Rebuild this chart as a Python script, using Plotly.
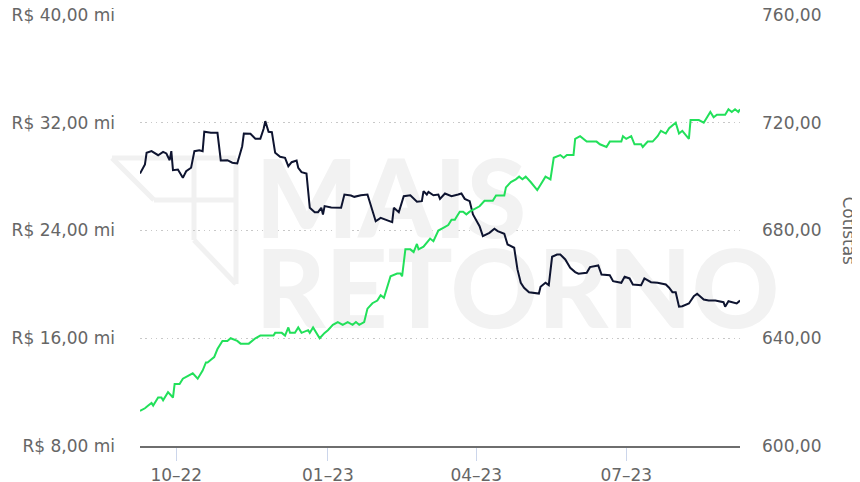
import plotly.graph_objects as go

# ---- data: Patrimônio líquido (R$ mi) ----
pl_dates = [
    "2022-09-09", "2022-09-12", "2022-09-13", "2022-09-16", "2022-09-20", "2022-09-23", "2022-09-25",
    "2022-09-27", "2022-09-28", "2022-09-29", "2022-10-02", "2022-10-05", "2022-10-07", "2022-10-10",
    "2022-10-12", "2022-10-15", "2022-10-17", "2022-10-18", "2022-10-22", "2022-10-26", "2022-10-28",
    "2022-11-01", "2022-11-04", "2022-11-07", "2022-11-10", "2022-11-11", "2022-11-15", "2022-11-18",
    "2022-11-21", "2022-11-23", "2022-11-24", "2022-11-26", "2022-11-28", "2022-11-30", "2022-12-03",
    "2022-12-06", "2022-12-08", "2022-12-10", "2022-12-13", "2022-12-14", "2022-12-16", "2022-12-19",
    "2022-12-21", "2022-12-24", "2022-12-26", "2022-12-28", "2022-12-29", "2022-12-30", "2023-01-03",
    "2023-01-09", "2023-01-11", "2023-01-15", "2023-01-17", "2023-01-21", "2023-01-25", "2023-01-27",
    "2023-01-30", "2023-02-02", "2023-02-06", "2023-02-09", "2023-02-10", "2023-02-13", "2023-02-16",
    "2023-02-20", "2023-02-24", "2023-02-27", "2023-02-28", "2023-03-02", "2023-03-03", "2023-03-06",
    "2023-03-09", "2023-03-10", "2023-03-13", "2023-03-17", "2023-03-21", "2023-03-23", "2023-03-25",
    "2023-03-28", "2023-03-30", "2023-04-03", "2023-04-05", "2023-04-09", "2023-04-12", "2023-04-14",
    "2023-04-18", "2023-04-20", "2023-04-24", "2023-04-26", "2023-04-28", "2023-04-30", "2023-05-03",
    "2023-05-09", "2023-05-10", "2023-05-13", "2023-05-15", "2023-05-17", "2023-05-20", "2023-05-22",
    "2023-05-25", "2023-05-28", "2023-05-31", "2023-06-02", "2023-06-07", "2023-06-09", "2023-06-14",
    "2023-06-16", "2023-06-21", "2023-06-23", "2023-06-28", "2023-06-30", "2023-07-03", "2023-07-05",
    "2023-07-10", "2023-07-12", "2023-07-16", "2023-07-20", "2023-07-25", "2023-07-27", "2023-07-29",
    "2023-07-31", "2023-08-02", "2023-08-04", "2023-08-08", "2023-08-11", "2023-08-13", "2023-08-17",
    "2023-08-20", "2023-08-24", "2023-08-29", "2023-08-30", "2023-09-01", "2023-09-04", "2023-09-06",
    "2023-09-08",
]
pl_values = [
    28.23, 28.90, 29.77, 29.89, 29.59, 29.84, 29.72,
    29.22, 29.89, 28.48, 28.53, 27.91, 28.40, 28.66,
    29.89, 29.96, 29.89, 31.33, 31.25, 31.25, 29.20,
    29.22, 29.03, 28.98, 30.26, 31.20, 31.18, 30.81,
    30.81, 31.55, 32.12, 31.33, 31.30, 29.77, 29.47,
    29.40, 28.77, 29.07, 29.20, 28.66, 28.33, 28.23,
    25.69, 25.36, 25.36, 25.69, 25.19, 25.81, 25.71,
    25.69, 26.67, 26.60, 26.50, 26.62, 26.67, 25.81,
    24.69, 24.94, 24.77, 24.62, 25.69, 25.36, 26.55,
    26.62, 26.13, 26.18, 26.92, 26.67, 26.87, 26.62,
    26.67, 26.35, 26.75, 26.55, 26.67, 26.75, 26.35,
    26.18, 25.19, 24.32, 23.58, 23.83, 24.13, 23.95,
    23.76, 22.96, 22.72, 21.11, 20.12, 19.75, 19.42,
    19.32, 19.82, 20.12, 19.94, 22.05, 22.22, 22.22,
    21.85, 21.23, 20.91, 20.79, 20.86, 21.28, 21.40,
    20.73, 20.68, 20.24, 20.12, 20.56, 20.44, 19.99,
    19.94, 20.44, 20.16, 20.12, 19.99, 19.75, 19.42,
    19.42, 18.34, 18.38, 18.58, 19.12, 19.30, 18.88,
    18.80, 18.80, 18.68, 18.34, 18.75, 18.63, 18.58,
    18.80,
]

# ---- data: Cotistas ----
cot_dates = [
    "2022-09-09", "2022-09-12", "2022-09-14", "2022-09-16", "2022-09-17", "2022-09-20", "2022-09-22",
    "2022-09-23", "2022-09-26", "2022-09-29", "2022-09-30", "2022-10-03", "2022-10-05", "2022-10-08",
    "2022-10-11", "2022-10-14", "2022-10-17", "2022-10-19", "2022-10-20", "2022-10-22", "2022-10-24",
    "2022-10-26", "2022-10-29", "2022-11-01", "2022-11-03", "2022-11-07", "2022-11-09", "2022-11-14",
    "2022-11-18", "2022-11-21", "2022-11-29", "2022-11-30", "2022-12-04", "2022-12-06", "2022-12-08",
    "2022-12-09", "2022-12-12", "2022-12-14", "2022-12-16", "2022-12-20", "2022-12-21", "2022-12-23",
    "2022-12-27", "2022-12-30", "2023-01-01", "2023-01-04", "2023-01-07", "2023-01-10", "2023-01-13",
    "2023-01-16", "2023-01-18", "2023-01-20", "2023-01-23", "2023-01-25", "2023-01-28", "2023-01-31",
    "2023-02-02", "2023-02-04", "2023-02-08", "2023-02-12", "2023-02-14", "2023-02-15", "2023-02-17",
    "2023-02-20", "2023-02-22", "2023-02-24", "2023-02-25", "2023-02-28", "2023-03-03", "2023-03-04",
    "2023-03-06", "2023-03-09", "2023-03-12", "2023-03-15", "2023-03-17", "2023-03-19", "2023-03-20",
    "2023-03-22", "2023-03-24", "2023-03-26", "2023-03-28", "2023-03-31", "2023-04-03", "2023-04-06",
    "2023-04-08", "2023-04-11", "2023-04-13", "2023-04-15", "2023-04-18", "2023-04-19", "2023-04-22",
    "2023-04-25", "2023-04-27", "2023-04-29", "2023-05-01", "2023-05-04", "2023-05-08", "2023-05-10",
    "2023-05-13", "2023-05-16", "2023-05-18", "2023-05-22", "2023-05-24", "2023-05-26", "2023-05-30",
    "2023-05-31", "2023-06-03", "2023-06-07", "2023-06-13", "2023-06-15", "2023-06-19", "2023-06-21",
    "2023-06-24", "2023-06-28", "2023-06-29", "2023-07-01", "2023-07-04", "2023-07-06", "2023-07-10",
    "2023-07-11", "2023-07-14", "2023-07-17", "2023-07-20", "2023-07-22", "2023-07-25", "2023-07-27",
    "2023-07-31", "2023-08-02", "2023-08-04", "2023-08-08", "2023-08-09", "2023-08-14", "2023-08-17",
    "2023-08-20", "2023-08-21", "2023-08-23", "2023-08-25", "2023-08-28", "2023-08-30", "2023-09-01",
    "2023-09-03", "2023-09-05", "2023-09-07", "2023-09-08",
]
cot_values = [
    613, 614, 615, 616, 615, 618, 618,
    617, 620, 618, 623, 623, 625, 626,
    627, 625, 628, 631, 631, 632, 633,
    636, 639, 639, 640, 639, 638, 638,
    640, 641, 641, 642, 642, 641, 644,
    642, 642, 644, 642, 643, 642, 644,
    640, 642, 643, 645, 646, 645, 646,
    645, 646, 645, 646, 651, 653, 654,
    656, 655, 663, 664, 664, 663, 673,
    673, 672, 675, 673, 674, 676, 677,
    676, 680, 681, 682, 684, 684, 685,
    687, 687, 686, 687, 688, 689, 691,
    691, 691, 693, 693, 693, 696, 698,
    699, 700, 699, 700, 698, 695, 697,
    700, 699, 707, 708, 707, 708, 708,
    714, 715, 713, 713, 712, 711, 713,
    713, 713, 715, 714, 715, 712, 712,
    711, 713, 713, 715, 717, 716, 718,
    720, 716, 717, 714, 721, 721, 720,
    723, 724, 722, 723, 723, 723, 725,
    724, 725, 724, 725,
]

# ---- axis ticks ----
x_tickvals = ["2022-10-01", "2023-01-01", "2023-04-01", "2023-07-01"]
x_ticktext = ["10–22", "01–23", "04–23", "07–23"]
left_range = [8, 40]
right_range = [600, 760]

FONT = "DejaVu Sans"
GRAY = "#666666"
OFF = 8                      # page body margin in the browser
W, H = 860 - OFF, 482 - OFF  # figure fills the visible window
ML, MR, MT, MB = 132, 120, 7, 36


def px2paper_x(px):
    return (px - OFF - ML) / (W - ML - MR)


def px2paper_y(py):
    return (H - MB - (py - OFF)) / (H - MT - MB)


fig = go.Figure()

# watermark text (drawn first, below the lines)
fig.add_trace(go.Scatter(
    x=["2022-11-18", "2022-11-18"], y=[25.45, 18.8],
    mode="text", text=["MAIS", "RETORNO"], textposition="middle right",
    textfont=dict(family="Lato", size=108, color="#f2f2f2", weight=900),
    hoverinfo="skip", showlegend=False, cliponaxis=False,
))

fig.add_trace(go.Scatter(
    x=pl_dates, y=pl_values, mode="lines", name="Patrimônio líquido",
    line=dict(color="#0e1430", width=2), yaxis="y", showlegend=False,
))
fig.add_trace(go.Scatter(
    x=cot_dates, y=cot_values, mode="lines", name="Cotistas",
    line=dict(color="#22e05a", width=2), yaxis="y2", showlegend=False,
))

# watermark logo outline
logo_segments = [
    ((112, 158), (236, 158)),
    ((112, 158), (154, 200)),
    ((154, 200), (236, 200)),
    ((194, 158), (194, 240)),
    ((194, 240), (236, 284)),
    ((236, 158), (236, 284)),
]
shapes = []
for (x0, y0), (x1, y1) in logo_segments:
    shapes.append(dict(type="line", xref="paper", yref="paper",
                       x0=px2paper_x(x0), y0=px2paper_y(y0),
                       x1=px2paper_x(x1), y1=px2paper_y(y1),
                       line=dict(color="#f1f1f1", width=5), layer="below"))

fig.update_layout(
    width=W, height=H,
    margin=dict(l=ML, r=MR, t=MT, b=MB, autoexpand=False),
    paper_bgcolor="white", plot_bgcolor="white",
    separators=",.",
    font=dict(family=FONT, size=17, color=GRAY),
    xaxis=dict(
        type="date", range=[pl_dates[0], pl_dates[-1]],
        tickvals=x_tickvals, ticktext=x_ticktext, automargin=False,
        showgrid=False, zeroline=False, ticklabeloverflow="allow",
        showline=True, linecolor="#6e6e6e", linewidth=1.5,
        ticks="outside", ticklen=13, tickcolor="#ccd6eb", tickwidth=1,
        tickfont=dict(family=FONT, size=17, color=GRAY),
    ),
    yaxis=dict(
        range=left_range, dtick=8, tick0=8, automargin=False,
        tickformat=",.2f", tickprefix="R$ ", ticksuffix=" mi",
        showgrid=True, gridcolor="#c8c8c8", griddash="1.5px,3.8px", gridwidth=1,
        zeroline=False, showline=False, ticks="", ticklabeloverflow="allow",
        ticklabelstandoff=24,
        tickfont=dict(family=FONT, size=17, color=GRAY),
    ),
    yaxis2=dict(
        range=right_range, dtick=40, tick0=600, automargin=False,
        tickformat=".2f", overlaying="y", side="right",
        showgrid=False, zeroline=False, showline=False, ticks="",
        ticklabeloverflow="allow", ticklabelstandoff=21,
        tickfont=dict(family=FONT, size=17, color=GRAY),
    ),
    shapes=shapes,
    annotations=[dict(
        text="Cotistas", xref="paper", yref="paper", x=1, y=0.5,
        xshift=109, xanchor="center", yanchor="middle", textangle=90,
        showarrow=False, font=dict(family=FONT, size=17, color=GRAY),
    )],
    showlegend=False,
)

fig.write_html("out.html")
